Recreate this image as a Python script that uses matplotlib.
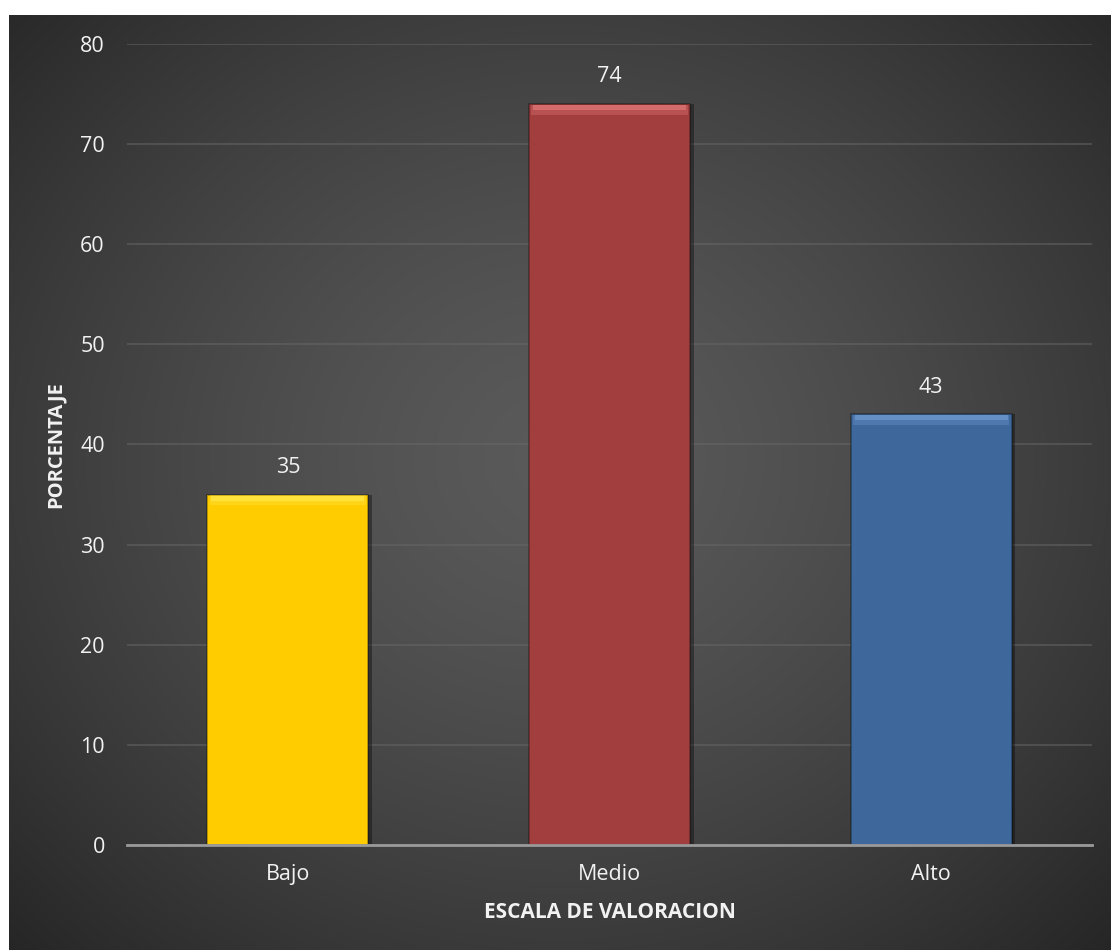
import matplotlib.pyplot as plt
import numpy as np

categorias = ["Bajo", "Medio", "Alto"]
porcentajes = [35, 74, 43]
colores = ["#FFCC00", "#A23E3E", "#3E689C"]
brillos = ["#FFE84A", "#E27878", "#6F9AD0"]

plt.rcParams['font.family'] = ['Open Sans', 'DejaVu Sans']

fig = plt.figure(figsize=(11.11, 9.5), dpi=100)
fig.patch.set_facecolor("white")

# fondo con degradado radial
bg = fig.add_axes([9 / 1111, 0, 1 - 9 / 1111, 935 / 950], zorder=0)
yy, xx = np.mgrid[-1:1:400j, -1:1:400j]
r = np.sqrt((xx * 1.0) ** 2 + ((yy + 0.05) * 0.95) ** 2) / np.sqrt(2)
r = np.clip(r, 0, 1) ** 1.4
tono = (0x5a - (0x5a - 0x26) * r) / 255
bg.imshow(np.dstack([tono, tono, tono]), aspect="auto", extent=[0, 1, 0, 1])
bg.axis("off")

ax = fig.add_axes([127 / 1111, 105 / 950, 965 / 1111, 801 / 950], zorder=1)
ax.patch.set_alpha(0)

x = np.arange(len(categorias))
ancho = 0.5

# sombra
ax.bar(x + 0.012, porcentajes, width=ancho, color="black", alpha=0.35, zorder=2)
ax.bar(x, porcentajes, width=ancho, color=colores, edgecolor="#00000055",
       linewidth=1.2, zorder=3)
# brillo superior (bisel)
ax.bar(x, [1.0] * 3, width=ancho * 0.97, bottom=[v - 1.05 for v in porcentajes],
       color=brillos, alpha=0.35, linewidth=0, zorder=4)
ax.bar(x, [0.5] * 3, width=ancho * 0.95, bottom=[v - 0.6 for v in porcentajes],
       color=brillos, alpha=0.7, linewidth=0, zorder=4)

for xi, v in zip(x, porcentajes):
    ax.annotate(str(v), (xi, v), xytext=(0, 12), textcoords="offset points",
                ha="center", va="bottom", color="#F2F2F2", fontsize=15.5)

ax.set_xlim(-0.5, 2.5)
ax.set_ylim(0, 80)
ax.set_yticks(range(0, 81, 10))
ax.set_xticks(x)
ax.set_xticklabels(categorias)
ax.yaxis.grid(True, color="#686868", linewidth=1.3, alpha=0.55)
ax.set_axisbelow(True)
for s in ["top", "right", "left"]:
    ax.spines[s].set_visible(False)
ax.spines["bottom"].set_color("#9a9a9a")
ax.spines["bottom"].set_linewidth(2)
ax.spines["bottom"].set_zorder(5)
ax.tick_params(axis="both", length=0, colors="#F2F2F2", labelsize=15.5)
ax.tick_params(axis="y", pad=16)
ax.tick_params(axis="x", pad=14)

ax.set_xlabel("ESCALA DE VALORACION", fontsize=15, fontweight="bold",
              color="#F2F2F2", labelpad=12)
ax.set_ylabel("PORCENTAJE", fontsize=14.5, fontweight="bold",
              color="#F2F2F2", labelpad=10)

fig.savefig("out.png", dpi=100)
